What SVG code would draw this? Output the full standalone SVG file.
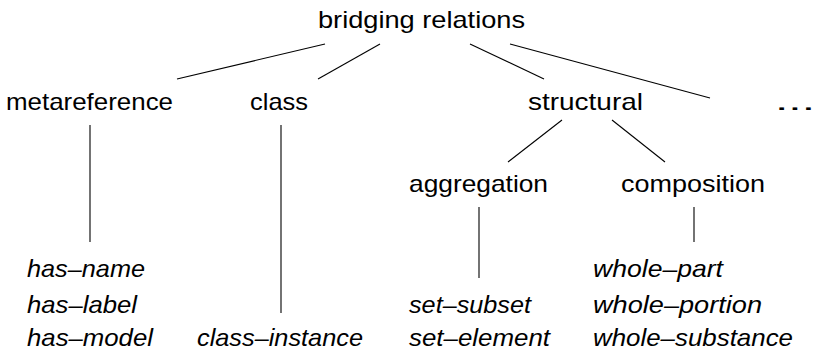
<svg xmlns="http://www.w3.org/2000/svg" width="821" height="352" viewBox="0 0 821 352">
<style>
text{font-family:"Liberation Sans","DejaVu Sans",sans-serif;font-size:24px;fill:#000}
.leaf{font-style:italic}
.edge{stroke:#000;stroke-width:1.1;fill:none}
</style>
<rect width="821" height="352" fill="#fff"/>
<g id="connectors">
<line class="edge" x1="325" y1="44" x2="177" y2="79"/>
<line class="edge" x1="380" y1="44" x2="318" y2="79"/>
<line class="edge" x1="470" y1="44" x2="544" y2="79"/>
<line class="edge" x1="510" y1="44" x2="710" y2="98"/>
<line class="edge" x1="90" y1="125" x2="90" y2="242"/>
<line class="edge" x1="281" y1="125" x2="281" y2="313"/>
<line class="edge" x1="562" y1="120" x2="508" y2="162"/>
<line class="edge" x1="612" y1="120" x2="665" y2="162"/>
<line class="edge" x1="479" y1="207" x2="479" y2="278"/>
<line class="edge" x1="694" y1="207" x2="694" y2="242"/>
</g>
<g id="root"><text x="318" y="28" textLength="207" lengthAdjust="spacingAndGlyphs">bridging relations</text></g>
<g id="metareference"><text x="6" y="110" textLength="167" lengthAdjust="spacingAndGlyphs">metareference</text></g>
<g id="class"><text x="250" y="110" textLength="58" lengthAdjust="spacingAndGlyphs">class</text></g>
<g id="structural"><text x="528" y="110" textLength="115" lengthAdjust="spacingAndGlyphs">structural</text></g>
<g id="more"><text x="775" y="110" textLength="40" lengthAdjust="spacingAndGlyphs">...</text></g>
<g id="aggregation"><text x="409" y="192" textLength="139" lengthAdjust="spacingAndGlyphs">aggregation</text></g>
<g id="composition"><text x="621" y="192" textLength="144" lengthAdjust="spacingAndGlyphs">composition</text></g>
<g id="meta-leaves">
<text class="leaf" x="27" y="277" textLength="118" lengthAdjust="spacingAndGlyphs">has–name</text>
<text class="leaf" x="27" y="313" textLength="110" lengthAdjust="spacingAndGlyphs">has–label</text>
<text class="leaf" x="27" y="346" textLength="126" lengthAdjust="spacingAndGlyphs">has–model</text>
</g>
<g id="class-leaves">
<text class="leaf" x="197" y="346" textLength="166" lengthAdjust="spacingAndGlyphs">class–instance</text>
</g>
<g id="aggregation-leaves">
<text class="leaf" x="409" y="313" textLength="122" lengthAdjust="spacingAndGlyphs">set–subset</text>
<text class="leaf" x="409" y="346" textLength="141" lengthAdjust="spacingAndGlyphs">set–element</text>
</g>
<g id="composition-leaves">
<text class="leaf" x="593" y="277" textLength="130" lengthAdjust="spacingAndGlyphs">whole–part</text>
<text class="leaf" x="593" y="313" textLength="169" lengthAdjust="spacingAndGlyphs">whole–portion</text>
<text class="leaf" x="593" y="346" textLength="200" lengthAdjust="spacingAndGlyphs">whole–substance</text>
</g>
</svg>
